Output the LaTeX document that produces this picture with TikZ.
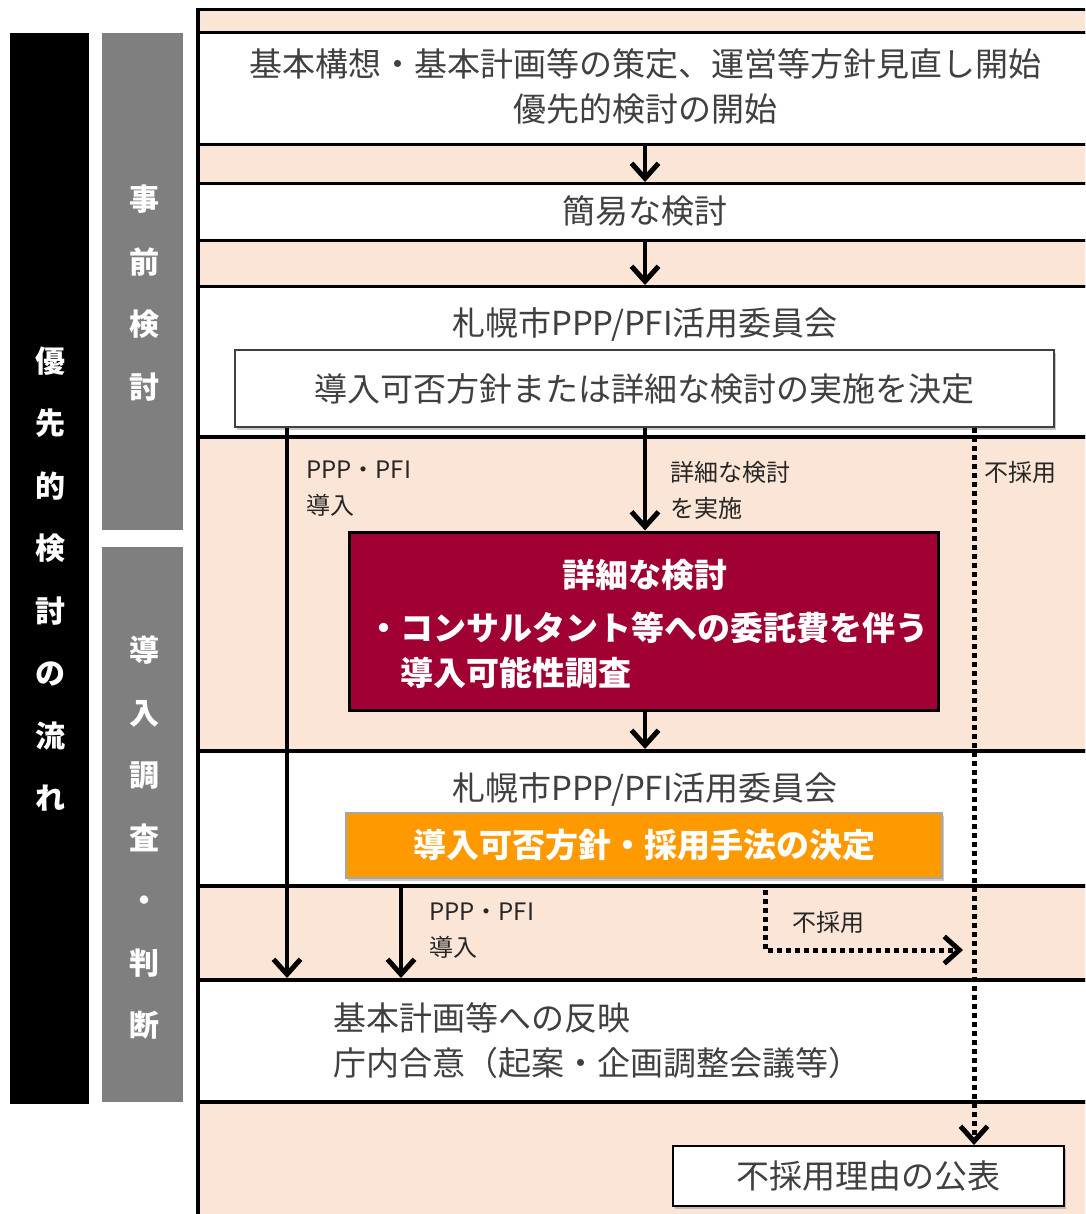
\documentclass[tikz,border=0pt]{standalone}
\usepackage{fontspec}
\setmainfont{Noto Sans CJK JP}
\usetikzlibrary{arrows.meta,shadows}
\definecolor{peach}{HTML}{FBE5D6}
\definecolor{wine}{HTML}{A00032}
\definecolor{amber}{HTML}{FF9900}
\definecolor{bargray}{HTML}{7F7F7F}
\definecolor{shade}{HTML}{A6A6A6}
\definecolor{inkgray}{HTML}{404040}
\begin{document}
\begin{tikzpicture}[x=1pt,y=-1pt,
  band/.style={draw=black,line width=3.5pt,minimum width=910pt,inner sep=0pt,anchor=north west},
  pband/.style={band,fill=peach},
  wband/.style={band,fill=white},
  maintext/.style={font=\fontsize{33}{45}\selectfont,align=center,inner sep=0pt,text=inkgray},
  boldw/.style={font=\bfseries\fontsize{33}{45}\selectfont,text=white,inner sep=0pt},
  lbl/.style={font=\fontsize{24}{36}\selectfont,align=left,inner sep=0pt,anchor=north west,text=black!85},
  sidetext/.style={font=\bfseries\fontsize{30}{62.5}\selectfont,text=white,align=center,inner sep=0pt},
  shbox/.style={draw=black,line width=2pt,fill=white,inner sep=0pt,
     drop shadow={shadow xshift=2pt,shadow yshift=-3pt,opacity=0.35,fill=black!60},
     font=\fontsize{33}{45}\selectfont,text=inkgray},
  tip/.style={-{Straight Barb[length=15pt,width=27pt,line width=5pt]}},
  flow/.style={line width=4pt,tip},
  dots/.style={line width=5pt,dash pattern=on 5pt off 4pt},
]
\useasboundingbox (0,0) rectangle (1085,1214);
\clip (0,0) rectangle (1085,1214);
\fill[white] (0,0) rectangle (1085,1214);

% side bars
\node[fill=black,minimum width=79pt,minimum height=1071pt,inner sep=0pt] (flowbar) at (49.5,568.5) {};
\node[sidetext] (flowtxt) at (50,579) {優\\先\\的\\検\\討\\の\\流\\れ};
\node[fill=bargray,minimum width=81pt,minimum height=497pt,inner sep=0pt] (prebar) at (142.5,281.5) {};
\node[sidetext] (pretxt) at (144,293) {事\\前\\検\\討};
\node[fill=bargray,minimum width=81pt,minimum height=555pt,inner sep=0pt] (invbar) at (142.5,824.5) {};
\node[sidetext] (invtxt) at (144,838) {導\\入\\調\\査\\・\\判\\断};

% bands
\node[pband,minimum height=23pt]  (bA) at (196,8) {};
\node[wband,minimum height=112pt] (bB) at (196,31) {};
\node[pband,minimum height=39pt]  (bC) at (196,143) {};
\node[wband,minimum height=57pt]  (bD) at (196,182) {};
\node[pband,minimum height=46pt]  (bE) at (196,239) {};
\node[wband,minimum height=150pt] (bF) at (196,285) {};
\node[pband,minimum height=314pt] (bG) at (196,435) {};
\node[wband,minimum height=135pt] (bH) at (196,749) {};
\node[pband,minimum height=94pt]  (bI) at (196,884) {};
\node[wband,minimum height=122pt] (bJ) at (196,978) {};
\node[pband,minimum height=140pt] (bK) at (196,1100) {};

% texts and boxes
\node[maintext] (t1) at (645,86) {基本構想・基本計画等の策定、運営等方針見直し開始\\優先的検討の開始};
\node[maintext] (t2) at (645,211) {簡易な検討};
\node[maintext] (t3) at (645,325) {札幌市PPP/PFI活用委員会};
\node[shbox,line width=1.5pt,draw=black!75,minimum width=819pt,minimum height=77pt] (decide) at (644.5,388.5) {導入可否方針または詳細な検討の実施を決定};

\node[draw=black,line width=3pt,fill=wine,minimum width=589pt,minimum height=178pt,inner sep=0pt] (detail) at (643.5,621) {};
\node[boldw] (dt1) at (645,575) {詳細な検討};
\node[boldw,align=left,anchor=west] (dt2) at (367,650.5) {・コンサルタント等への委託費を伴う\\\hspace*{1em}導入可能性調査};

\node[maintext] (t4) at (645,790) {札幌市PPP/PFI活用委員会};
\node[fill=amber,draw=shade,line width=2.5pt,minimum width=596pt,minimum height=65pt,inner sep=0pt,
      drop shadow={shadow xshift=2pt,shadow yshift=-3pt,opacity=0.35,fill=black!60},
      font=\bfseries\fontsize{33}{45}\selectfont,text=white] (method) at (644,845.5) {導入可否方針・採用手法の決定};

\node[maintext,align=left,anchor=west] (t5) at (333,1041) {基本計画等への反映\\庁内合意（起案・企画調整会議等）};
\node[shbox,minimum width=391pt,minimum height=60pt] (pub) at (868.5,1176) {不採用理由の公表};

% labels
\node[lbl] (l1) at (306,461) {PPP・PFI\\導入};
\node[lbl] (l2) at (670,461) {詳細な検討\\を実施};
\node[lbl] (l3) at (984,461) {不採用};
\node[lbl] (l4) at (429,903) {PPP・PFI\\導入};
\node[lbl] (l5) at (792,911) {不採用};

% connectors
\coordinate (cx) at (645,0);
\coordinate (lx) at (287,0);
\coordinate (mx) at (401,0);
\coordinate (rx) at (974,0);
\draw[flow] (bB.south -| cx) -- (bD.north -| cx);
\draw[flow] (bD.south -| cx) -- (bF.north -| cx);
\draw[flow] (decide.south -| cx) -- (detail.north -| cx);
\draw[flow] (detail.south -| cx) -- (bH.north -| cx);
\draw[flow] (decide.south -| lx) -- (bJ.north -| lx);
\draw[flow] (bH.south -| mx) -- (bJ.north -| mx);
\draw[dots,tip] (decide.south -| rx) -- (pub.north -| rx);
\coordinate (rejs) at (765,890);
\coordinate (reje) at (963,950);
\draw[dots,tip] (rejs) |- (reje);
\end{tikzpicture}
\end{document}
